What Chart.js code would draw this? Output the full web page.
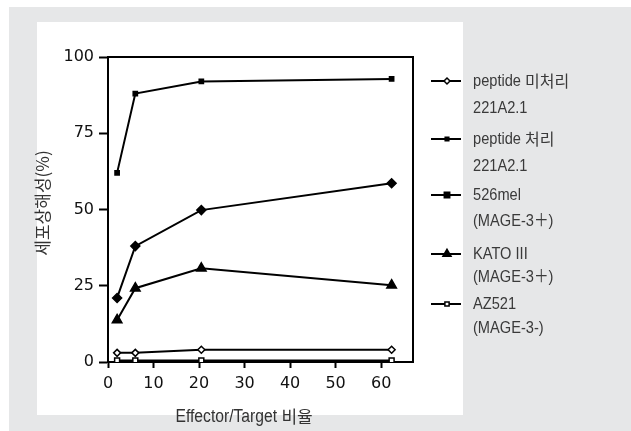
<!DOCTYPE html>
<html><head><meta charset="utf-8">
<script src="https://cdn.jsdelivr.net/npm/chart.js@4/dist/chart.umd.min.js"></script>
<style>html,body{margin:0;padding:0;background:#fff;}#wrap{position:relative;width:631px;height:431px;}</style>
</head><body><div id="wrap"><canvas id="c" width="631" height="431"></canvas></div>
<script>
// ---- data ----
const ratios = [2, 6, 20.5, 62.3];
const peptideUntreated = [3, 3, 4, 4];
const peptideTreated = [62, 88, 92, 92.8];
const mel526 = [21, 38, 49.8, 58.6];
const kato3 = [13.8, 24.2, 30.7, 25.2];
const az521 = [0.5, 0.5, 0.5, 0.5];
const seriesNames = [
  ['peptide 미처리', '221A2.1'],
  ['peptide 처리', '221A2.1'],
  ['526mel', '(MAGE-3＋)'],
  ['KATO III', '(MAGE-3＋)'],
  ['AZ521', '(MAGE-3-)']
];
const xTicks = [0, 10, 20, 30, 40, 50, 60];
const yTicks = [0, 25, 50, 75, 100];
const xTitle = 'Effector/Target 비율';
const yTitle = '세포상해성(%)';

const seriesValues = [peptideUntreated, peptideTreated, mel526, kato3, az521];
const styles = [
  {pointStyle: 'rectRot', radius: 3.5, fill: '#fff', legendStyle: 'rectRot'},
  {pointStyle: 'rect', radius: 3, fill: '#000', legendStyle: 'rect'},
  {pointStyle: 'rectRot', radius: 4.5, fill: '#000', legendStyle: 'rect'},
  {pointStyle: 'triangle', radius: 5.5, fill: '#000', legendStyle: 'triangle'},
  {pointStyle: 'rect', radius: 3.5, fill: '#fff', legendStyle: 'rect'}
];

const datasets = seriesValues.map((vals, i) => ({
  label: seriesNames[i].join(' '),
  data: vals.map((v, j) => ({x: ratios[j], y: v})),
  borderColor: '#000',
  borderWidth: 2,
  backgroundColor: styles[i].fill,
  pointBackgroundColor: styles[i].fill,
  pointBorderColor: '#000',
  pointBorderWidth: 1.5,
  pointStyle: styles[i].pointStyle,
  pointRadius: styles[i].radius,
  tension: 0,
  fill: false
}));

function drawMixed(ctx, text, x, y) {
  // Hangul runs drawn at natural width, Latin runs condensed
  const parts = text.split(/([\uAC00-\uD7A3]+)/).filter(p => p.length);
  let cx = x;
  parts.forEach(p => {
    const hangul = /[\uAC00-\uD7A3]/.test(p);
    ctx.save();
    if (hangul) {
      ctx.font = '16px "Noto Sans CJK KR", sans-serif';
      const w = ctx.measureText(p).width;
      ctx.translate(cx, y);
      ctx.fillText(p, 0, 0);
      cx += w + 1;
    } else {
      ctx.font = '17px "Liberation Sans", "Noto Sans CJK KR", sans-serif';
      const w = ctx.measureText(p).width * 0.86;
      ctx.translate(cx, y);
      ctx.scale(0.86, 1);
      ctx.fillText(p, 0, 0);
      cx += w;
    }
    ctx.restore();
  });
}

const bgPlugin = {
  id: 'bg',
  beforeDraw(chart) {
    const ctx = chart.ctx;
    ctx.save();
    ctx.fillStyle = '#fff';
    ctx.fillRect(0, 0, 631, 431);
    ctx.fillStyle = '#e6e7e8';
    ctx.fillRect(9, 7, 622, 424);
    ctx.fillStyle = '#fff';
    ctx.fillRect(37, 22, 426, 393);
    ctx.restore();
  },
  afterDatasetsDraw(chart) {
    const ctx = chart.ctx, a = chart.chartArea;
    ctx.save();
    ctx.strokeStyle = '#000';
    ctx.lineWidth = 2;
    ctx.beginPath();
    ctx.moveTo(a.left, a.top);
    ctx.lineTo(a.right, a.top);
    ctx.lineTo(a.right, a.bottom);
    ctx.stroke();
    ctx.restore();
  },
  afterDraw(chart) {
    const ctx = chart.ctx;
    ctx.save();
    ctx.fillStyle = '#333';
    // axis titles
    ctx.textBaseline = 'middle';
    ctx.textAlign = 'left';
    ctx.save();
    ctx.font = '17px "Liberation Sans", sans-serif';
    const w1 = ctx.measureText('Effector/Target ').width * 0.92;
    ctx.font = '17px "Noto Sans CJK KR", sans-serif';
    const w2 = ctx.measureText('비율').width;
    ctx.restore();
    ctx.save();
    const parts = xTitle.split(/([\uAC00-\uD7A3]+)/).filter(p => p.length);
    let cx = 244 - (w1 + w2) / 2;
    parts.forEach(p => {
      const hangul = /[\uAC00-\uD7A3]/.test(p);
      ctx.save();
      ctx.translate(cx, 417);
      if (hangul) {
        ctx.font = '17px "Noto Sans CJK KR", sans-serif';
        ctx.fillText(p, 0, 0);
        cx += ctx.measureText(p).width;
      } else {
        ctx.font = '18px "Liberation Sans", sans-serif';
        const w = ctx.measureText(p).width * 0.87;
        ctx.scale(0.87, 1);
        ctx.fillText(p, 0, 0);
        cx += w;
      }
      ctx.restore();
    });
    ctx.restore();
    ctx.save();
    ctx.translate(43, 203);
    ctx.rotate(-Math.PI / 2);
    ctx.textAlign = 'center';
    ctx.font = '17px "Noto Sans CJK KR", sans-serif';
    ctx.fillText(yTitle, 0, 0);
    ctx.restore();
    // legend
    const rows = [[81, 108], [139, 166], [195, 221], [254, 277], [304, 328]];
    rows.forEach((r, i) => {
      const y = r[0];
      ctx.strokeStyle = '#000';
      ctx.lineWidth = 2;
      ctx.beginPath();
      ctx.moveTo(431, y);
      ctx.lineTo(461, y);
      ctx.stroke();
      const st = styles[i];
      ctx.fillStyle = st.fill;
      ctx.strokeStyle = '#000';
      ctx.lineWidth = 1.5;
      Chart.helpers.drawPoint(ctx, {pointStyle: st.legendStyle, radius: st.radius * 0.85, borderWidth: 1.5}, 447, y);
      ctx.fillStyle = '#3a3a3a';
      seriesNames[i].forEach((t, k) => drawMixed(ctx, t, 473, r[k]));
    });
    ctx.restore();
  }
};

new Chart(document.getElementById('c'), {
  type: 'line',
  data: {datasets},
  options: {
    responsive: false,
    animation: false,
    devicePixelRatio: 1,
    layout: {padding: {left: 0, top: 57, right: 218, bottom: 0}},
    plugins: {legend: {display: false}, tooltip: {enabled: false}},
    scales: {
      x: {
        type: 'linear',
        min: 0, max: 67,
        afterBuildTicks(s) { s.ticks = xTicks.map(v => ({value: v})); },
        afterFit(s) { s.height = 69; },
        border: {display: true, color: '#000', width: 2},
        grid: {drawOnChartArea: false, drawTicks: true, tickLength: 6, tickColor: '#000', tickWidth: 2},
        ticks: {color: '#111', padding: 6, maxRotation: 0, font: {family: 'DejaVu Sans', size: 16}}
      },
      y: {
        min: 0, max: 100,
        afterBuildTicks(s) { s.ticks = yTicks.map(v => ({value: v})); },
        afterFit(s) { s.width = 108; },
        border: {display: true, color: '#000', width: 2},
        grid: {drawOnChartArea: false, drawTicks: true, tickLength: 9, tickColor: '#000', tickWidth: 2},
        ticks: {color: '#111', padding: 5, font: {family: 'DejaVu Sans', size: 16}}
      }
    }
  },
  plugins: [bgPlugin]
});
</script>
</body></html>
